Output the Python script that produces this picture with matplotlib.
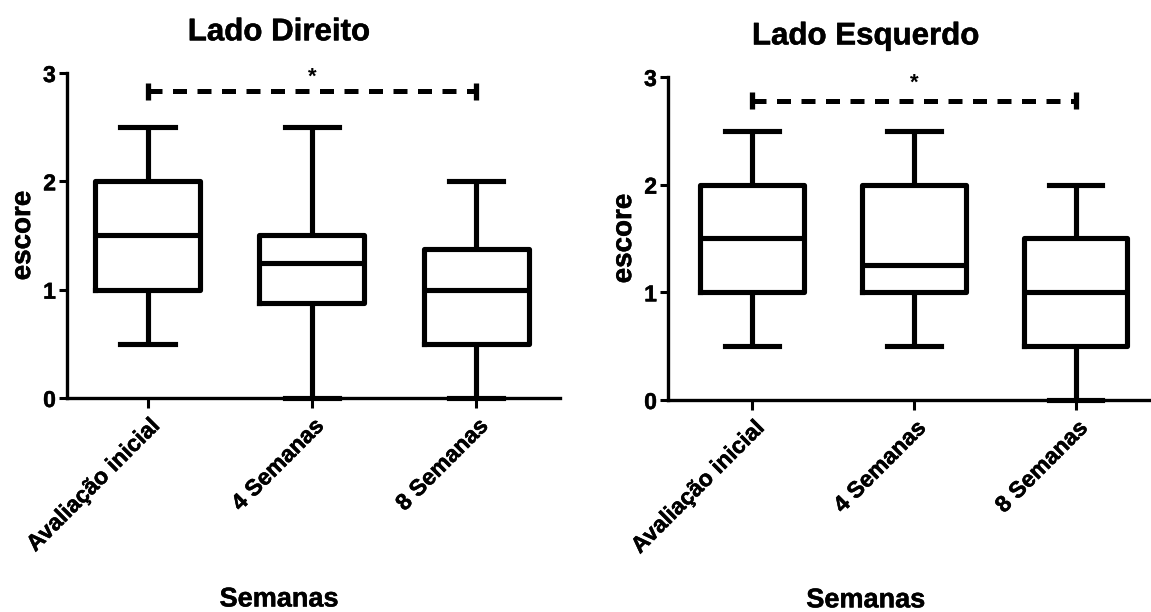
import numpy as np
import matplotlib
matplotlib.use("Agg")
from matplotlib import pyplot as plt
from matplotlib import patheffects as pe

plt.rcParams['font.family'] = ['Liberation Sans', 'DejaVu Sans']
plt.rcParams['font.weight'] = 'bold'

# grupos no eixo x
grupos = ['Avaliação inicial', '4 Semanas', '8 Semanas']

# lado direito: mínimo, Q1, mediana, Q3, máximo
dir_min = [0.5, 0.0, 0.0]
dir_q1 = [1.0, 0.875, 0.5]
dir_med = [1.5, 1.25, 1.0]
dir_q3 = [2.0, 1.5, 1.375]
dir_max = [2.5, 2.5, 2.0]

# lado esquerdo
esq_min = [0.5, 0.5, 0.0]
esq_q1 = [1.0, 1.0, 0.5]
esq_med = [1.5, 1.25, 1.0]
esq_q3 = [2.0, 2.0, 1.5]
esq_max = [2.5, 2.5, 2.0]

# comparação significativa (grupo 0 vs grupo 2)
sig_par = (0, 2)
sig_texto = '*'

# contorno fino para engrossar um pouco o negrito
grosso = [pe.withStroke(linewidth=0.35, foreground='black')]


def monta_stats(mn, q1, med, q3, mx):
    stats = []
    for i in range(len(grupos)):
        stats.append({'whislo': mn[i], 'q1': q1[i], 'med': med[i],
                      'q3': q3[i], 'whishi': mx[i], 'fliers': []})
    return stats


def painel(ax, stats, titulo, xlim, y_sig, y_star, tit_x):
    lw = 3.7
    ax.bxp(stats, positions=range(len(grupos)), widths=0.64, capwidths=0.33,
           showfliers=False,
           boxprops=dict(linewidth=lw, color='black'),
           medianprops=dict(linewidth=lw, color='black'),
           whiskerprops=dict(linewidth=lw, color='black', solid_capstyle='butt'),
           capprops=dict(linewidth=lw, color='black'))
    for a in ax.lines:
        a.set_clip_on(False)
    ax.set_xlim(*xlim)
    ax.set_ylim(0, 3)
    ax.set_yticks([0, 1, 2, 3])
    ax.set_xticks(range(len(grupos)))
    ax.set_xticklabels(grupos, rotation=45, ha='right', rotation_mode='anchor',
                       fontsize=16.5, fontweight='bold')
    ax.tick_params(axis='y', labelsize=16.5, width=2.2, length=6, pad=2)
    ax.tick_params(axis='x', width=2.2, length=7, pad=5)
    for s in ['top', 'right']:
        ax.spines[s].set_visible(False)
    for s in ['left', 'bottom']:
        ax.spines[s].set_linewidth(2.4)
    ax.set_ylabel('escore', fontsize=20, fontweight='bold', labelpad=5)
    ax.set_xlabel('Semanas', fontsize=19.5, fontweight='bold', labelpad=0)
    ax.xaxis.set_label_coords(tit_x, -0.58)
    ax.set_title(titulo, fontsize=22.5, fontweight='bold', x=tit_x, y=1.075)
    for t in ax.get_xticklabels() + ax.get_yticklabels():
        t.set_path_effects(grosso)
    for t in (ax.xaxis.label, ax.yaxis.label, ax.title):
        t.set_path_effects(grosso)

    # barra de significância
    x0, x1 = sig_par
    ax.plot([x0, x1], [y_sig, y_sig], color='black', lw=3.6,
            linestyle=(0, (2.8, 2.1)), clip_on=False)
    for xc in (x0, x1):
        ax.plot([xc, xc], [y_sig - 0.08, y_sig + 0.08], color='black', lw=3.8,
                solid_capstyle='butt', clip_on=False)
    ax.text((x0 + x1) / 2, y_star, sig_texto, ha='center', va='center',
            fontsize=16, fontweight='bold')


fig = plt.figure(figsize=(11.51, 6.12), dpi=100)
ax1 = fig.add_axes([0.0582, 0.3497, 0.4283, 0.531])
ax2 = fig.add_axes([0.5804, 0.3464, 0.4188, 0.5278])

painel(ax1, monta_stats(dir_min, dir_q1, dir_med, dir_q3, dir_max),
       'Lado Direito', (-0.49, 2.51), 2.83, 2.96, 0.43)
painel(ax2, monta_stats(esq_min, esq_q1, esq_med, esq_q3, esq_max),
       'Lado Esquerdo', (-0.52, 2.46), 2.78, 2.94, 0.41)

fig.savefig('out.png', dpi=100)
